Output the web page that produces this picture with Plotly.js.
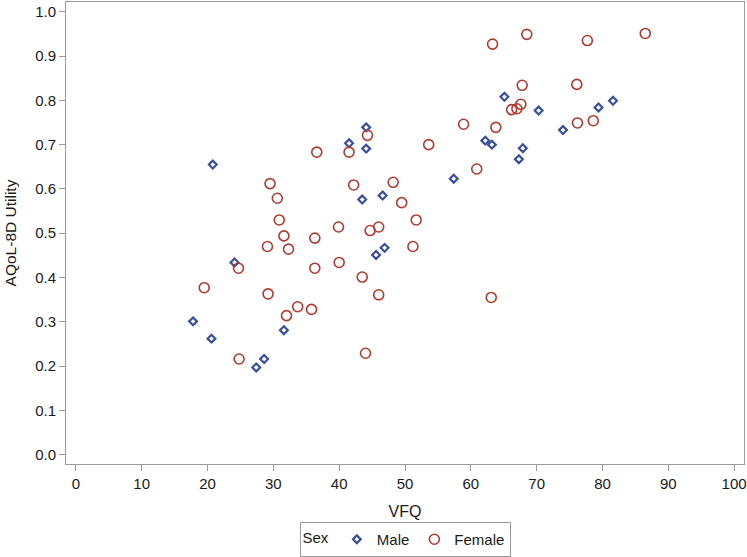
<!DOCTYPE html>
<html>
<head>
<meta charset="utf-8">
<script src="https://cdn.plot.ly/plotly-3.0.1.min.js"></script>
<style>html,body{margin:0;padding:0;background:#fff;}#chart{width:747px;height:557px;}</style>
</head>
<body>
<div id="chart"></div>
<script>
var maleVFQ = [20.8, 24.1, 17.8, 20.6, 44.1, 41.5, 44.1, 62.2, 63.2, 57.4, 43.5, 46.6, 46.9, 45.6, 31.6, 28.6, 27.4, 65.1, 81.6, 79.4, 70.3, 74.0, 67.9, 67.3];
var maleAQoL = [0.655, 0.434, 0.301, 0.262, 0.739, 0.703, 0.691, 0.709, 0.700, 0.623, 0.576, 0.585, 0.467, 0.451, 0.281, 0.216, 0.197, 0.808, 0.799, 0.784, 0.777, 0.733, 0.692, 0.667];

var femaleVFQ = [24.7, 19.5, 24.8, 63.3, 58.9, 63.8, 44.3, 41.5, 36.6, 53.6, 60.9, 29.5, 42.2, 48.2, 30.6, 49.5, 30.9, 51.7, 39.9, 46.0, 44.7, 31.6, 36.3, 29.1, 32.3, 51.2, 36.3, 40.0, 43.5, 46.0, 29.2, 33.7, 35.8, 32.0, 44.0, 63.1, 68.5, 77.7, 86.5, 67.8, 76.1, 66.2, 67.0, 67.6, 76.2, 78.6];
var femaleAQoL = [0.421, 0.377, 0.216, 0.927, 0.746, 0.739, 0.721, 0.683, 0.683, 0.700, 0.645, 0.612, 0.609, 0.615, 0.579, 0.569, 0.530, 0.530, 0.514, 0.514, 0.506, 0.494, 0.489, 0.470, 0.464, 0.470, 0.421, 0.434, 0.401, 0.361, 0.363, 0.334, 0.328, 0.314, 0.229, 0.355, 0.949, 0.935, 0.951, 0.834, 0.836, 0.779, 0.781, 0.791, 0.749, 0.754];

var xTicks = [0, 10, 20, 30, 40, 50, 60, 70, 80, 90, 100];
var yTicks = [0.0, 0.1, 0.2, 0.3, 0.4, 0.5, 0.6, 0.7, 0.8, 0.9, 1.0];

var blue = '#3a4f9e';
var red = '#b03a30';
var fontFam = 'Liberation Sans, Arial, sans-serif';

var traces = [
  {x: maleVFQ, y: maleAQoL, type: 'scatter', mode: 'markers', name: 'Male',
   marker: {symbol: 'diamond-open', size: 6, color: blue, line: {width: 2.2, color: blue}}},
  {x: femaleVFQ, y: femaleAQoL, type: 'scatter', mode: 'markers', name: 'Female',
   marker: {symbol: 'circle-open', size: 10, color: red, line: {width: 1.6, color: red}}}
];

var axisCommon = {
  showgrid: false, zeroline: false, showline: true, mirror: true,
  linecolor: '#9a9a9a', linewidth: 1, automargin: false,
  ticks: 'outside', ticklen: 6, tickcolor: '#9a9a9a', tickwidth: 1,
  tickfont: {family: fontFam, size: 15, color: '#1a1a1a'}
};

var layout = {
  width: 747, height: 557,
  margin: {l: 66, r: 3, t: 2, b: 93},
  paper_bgcolor: '#fff', plot_bgcolor: '#fff',
  font: {family: fontFam, color: '#1a1a1a'},
  xaxis: Object.assign({}, axisCommon, {
    range: [-1.5, 101.5], tickvals: xTicks, ticktext: xTicks.map(String),
    title: {text: 'VFQ', font: {size: 16, color: '#1a1a1a'}, standoff: 14}
  }),
  yaxis: Object.assign({}, axisCommon, {
    automargin: true,
    range: [-0.021, 1.022], tickvals: yTicks, ticktext: yTicks.map(function(v){return v.toFixed(1);}),
    title: {text: 'AQoL-8D Utility', font: {size: 15.5, color: '#1a1a1a'}, standoff: 14}
  }),
  showlegend: true,
  legend: {
    orientation: 'h', x: 0.5, xanchor: 'center', xref: 'paper',
    yref: 'container', y: 0.0, yanchor: 'bottom',
    bordercolor: '#9a9a9a', borderwidth: 1,
    font: {size: 15, color: '#1a1a1a'},
    title: {text: 'Sex', side: 'left', font: {size: 15, color: '#1a1a1a'}},
    itemwidth: 30, tracegroupgap: 0
  }
};

Plotly.newPlot('chart', traces, layout, {displayModeBar: false, staticPlot: true});
</script>
</body>
</html>
